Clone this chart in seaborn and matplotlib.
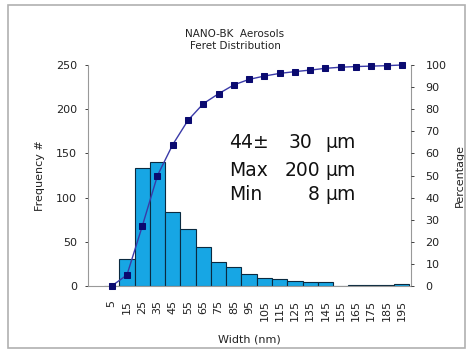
import matplotlib
matplotlib.use("Agg")
import matplotlib.pyplot as plt
import seaborn as sns
from matplotlib.patches import Rectangle

widths = ['5', '15', '25', '35', '45', '55', '65', '75', '85', '95',
          '105', '115', '125', '135', '145', '155', '165', '175', '185', '195']
frequency = [0, 30, 134, 140, 84, 64, 44, 27, 21, 14,
             9, 8, 6, 4, 4, 0, 1, 1, 1, 2]
percentage = [0, 5, 27, 50, 64, 75, 82.5, 87, 91, 93.5,
              95, 96.2, 97, 97.7, 98.5, 99, 99.3, 99.5, 99.7, 100]

sns.set_style("white")
plt.rcParams['font.family'] = ['DejaVu Sans']

fig = plt.figure(figsize=(4.71, 3.52), dpi=100)
ax = fig.add_axes([88 / 471, 1 - 286 / 352, 323 / 471, 221 / 352])

sns.barplot(x=widths, y=frequency, color='#17A6E4', edgecolor='#0b2a40',
            linewidth=0.8, width=1.0, saturation=1, ax=ax)
ax.set_xlim(-1.55, 19.6)
ax.set_ylim(0, 250)
ax.set_yticks(range(0, 251, 50))
ax.tick_params(axis='x', labelrotation=90, labelsize=8, colors='#222222', length=0, pad=10)
ax.tick_params(axis='y', labelsize=8, colors='#222222', length=2.5, width=0.6,
               direction='out', left=True, pad=5.5)
ax.set_xlabel('Width (nm)', fontsize=8, color='#222222', labelpad=10)
ax.set_ylabel('Frequency #', fontsize=8, color='#222222', labelpad=8)
for s in ['left', 'bottom', 'right']:
    ax.spines[s].set_color('#999999')
    ax.spines[s].set_linewidth(0.8)
ax.spines['top'].set_visible(False)

ax2 = ax.twinx()
sns.lineplot(x=list(range(len(widths))), y=percentage, color='#3a3aa8', linewidth=1.0,
             marker='s', markersize=4.5, markerfacecolor='#0a0a70',
             markeredgecolor='#0a0a70', clip_on=False, ax=ax2)
ax2.set_ylim(0, 100)
ax2.set_yticks(range(0, 101, 10))
ax2.tick_params(axis='y', labelsize=8, colors='#222222', length=2.5, width=0.6,
                direction='out', right=True, pad=8)
ax2.set_ylabel('Percentage', fontsize=8, color='#222222', labelpad=6)
for s in ax2.spines:
    ax2.spines[s].set_visible(False)

fs = 13.5
for txt, y in [('44\u00b1', 143), ('Max', 170), ('Min', 195)]:
    fig.text(229 / 471, 1 - y / 352, txt, fontsize=fs, va='center', ha='left', color='#111111')
for txt, x, y in [('30', 312, 143), ('200', 320, 170), ('8', 320, 195)]:
    fig.text(x / 471, 1 - y / 352, txt, fontsize=fs, va='center', ha='right', color='#111111')
for y in [143, 170, 195]:
    fig.text(325 / 471, 1 - y / 352, '\u03bcm', fontsize=fs, va='center', ha='left', color='#111111')

fig.text(235 / 471, 1 - 40 / 352, 'NANO-BK  Aerosols\nFeret Distribution', fontsize=7.5,
         ha='center', va='center', color='#222222', linespacing=1.3)

fig.patches.append(Rectangle((8 / 471, 1 - 348 / 352), 457 / 471, 343 / 352,
                             transform=fig.transFigure, fill=False,
                             edgecolor='#b0b0b0', linewidth=1.2))

fig.savefig('out.png', dpi=100)
